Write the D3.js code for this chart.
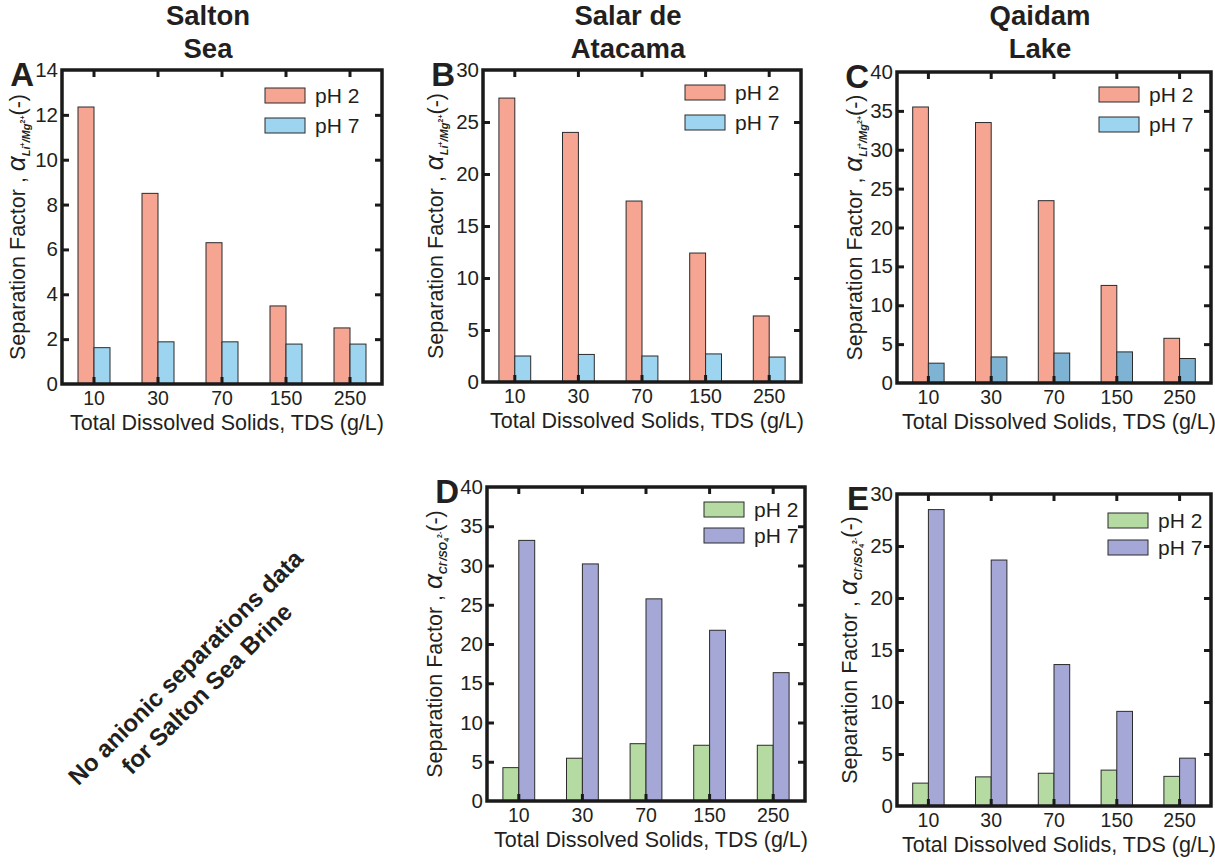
<!DOCTYPE html>
<html>
<head>
<meta charset="utf-8">
<script src="https://cdn.jsdelivr.net/npm/d3@7"></script>
<style>
  html, body { margin: 0; padding: 0; background: #fff; }
  svg { display: block; font-family: "Liberation Sans", Arial, Helvetica, sans-serif; }
</style>
</head>
<body>
<svg id="chart" width="1215" height="865"></svg>
<script>
// ---------- data ----------
const categories = ["10", "30", "70", "150", "250"];
const seriesNames = ["pH 2", "pH 7"];

const saltonPH2 = [12.35, 8.5, 6.3, 3.48, 2.5];
const saltonPH7 = [1.62, 1.88, 1.88, 1.78, 1.78];

const atacamaPH2 = [27.3, 24.0, 17.4, 12.4, 6.35];
const atacamaPH7 = [2.5, 2.65, 2.5, 2.7, 2.4];

const qaidamPH2 = [35.5, 33.5, 23.45, 12.55, 5.75];
const qaidamPH7 = [2.55, 3.35, 3.85, 4.0, 3.15];

const atacamaAnionPH2 = [4.25, 5.45, 7.3, 7.1, 7.1];
const atacamaAnionPH7 = [33.2, 30.2, 25.75, 21.75, 16.35];

const qaidamAnionPH2 = [2.2, 2.8, 3.15, 3.45, 2.85];
const qaidamAnionPH7 = [28.5, 23.65, 13.6, 9.1, 4.6];

const yTicksA = [0, 2, 4, 6, 8, 10, 12, 14];
const yTicks30 = [0, 5, 10, 15, 20, 25, 30];
const yTicks40 = [0, 5, 10, 15, 20, 25, 30, 35, 40];

// ---------- styles ----------
const TXT = "#231f20";
const cSalmon = "#f6a592";
const cBlue = "#9dd5f1";
const cBlueDark = "#7fb3d3";
const cGreen = "#b6dba2";
const cLav = "#a5a8d6";

const panels = [
  { letter: "A", title: ["Salton", "Sea"], x: 62, y: 70, w: 320, h: 314, ymax: 14, ticks: yTicksA,
    data: [saltonPH2, saltonPH7], colors: [cSalmon, cBlue], legendColors: [cSalmon, cBlue],
    ion: "cation", labelOff: 37, legDx: 117, legDy: 18, legGap: 30 },
  { letter: "B", title: ["Salar de", "Atacama"], x: 483, y: 70, w: 318, h: 312, ymax: 30, ticks: yTicks30,
    data: [atacamaPH2, atacamaPH7], colors: [cSalmon, cBlue], legendColors: [cSalmon, cBlue],
    ion: "cation", labelOff: 40, legDx: 116, legDy: 15, legGap: 30 },
  { letter: "C", title: ["Qaidam", "Lake"], x: 897, y: 72, w: 314, h: 311, ymax: 40, ticks: yTicks40,
    data: [qaidamPH2, qaidamPH7], colors: [cSalmon, cBlueDark], legendColors: [cSalmon, cBlue],
    ion: "cation", labelOff: 35, legDx: 112, legDy: 15, legGap: 30 },
  { letter: "D", title: null, x: 487, y: 487, w: 318, h: 314, ymax: 40, ticks: yTicks40,
    data: [atacamaAnionPH2, atacamaAnionPH7], colors: [cGreen, cLav], legendColors: [cGreen, cLav],
    ion: "anion", labelOff: 45, legDx: 101, legDy: 15, legGap: 26 },
  { letter: "E", title: null, x: 897, y: 494, w: 314, h: 312, ymax: 30, ticks: yTicks30,
    data: [qaidamAnionPH2, qaidamAnionPH7], colors: [cGreen, cLav], legendColors: [cGreen, cLav],
    ion: "anion", labelOff: 40, legDx: 103, legDy: 19, legGap: 27 }
];

const svg = d3.select("#chart");

function drawPanel(p) {
  const g = svg.append("g").attr("transform", `translate(${p.x},${p.y})`);
  const x0 = d3.scaleBand().domain(categories).range([0, p.w]).padding(0);
  const x1 = d3.scaleBand().domain(seriesNames)
    .range([x0.bandwidth() * 0.25, x0.bandwidth() * 0.75]).padding(0);
  const y = d3.scaleLinear().domain([0, p.ymax]).range([p.h, 0]);

  // bars
  seriesNames.forEach((s, si) => {
    g.append("g").selectAll("rect")
      .data(p.data[si])
      .join("rect")
      .attr("x", (d, i) => x0(categories[i]) + x1(s))
      .attr("y", d => y(d))
      .attr("width", x1.bandwidth())
      .attr("height", d => y(0) - y(d))
      .attr("fill", p.colors[si])
      .attr("stroke", "#2b2b2b")
      .attr("stroke-width", 1);
  });

  // axes (ticks inward)
  const ax = g.append("g").attr("class", "axes");
  const left = ax.append("g")
    .call(d3.axisLeft(y).tickValues(p.ticks).tickSize(-7).tickPadding(4).tickFormat(d3.format("d")));
  const right = ax.append("g").attr("transform", `translate(${p.w},0)`)
    .call(d3.axisRight(y).tickValues(p.ticks).tickSize(-7).tickFormat(""));
  const bottom = ax.append("g").attr("transform", `translate(0,${p.h})`)
    .call(d3.axisBottom(x0).tickSize(-7).tickPadding(7));
  const top = ax.append("g")
    .call(d3.axisTop(x0).tickSize(-7).tickFormat(""));
  [left, right, bottom, top].forEach(a => {
    a.select(".domain").remove();
    a.selectAll(".tick line").attr("stroke", "#1a1a1a").attr("stroke-width", 3);
    a.selectAll(".tick text").attr("fill", TXT).style("font-family", '"Liberation Sans", Arial, sans-serif');
  });
  left.selectAll(".tick text").attr("font-size", 20.5);
  bottom.selectAll(".tick text").attr("font-size", 19.5).attr("dy", "0.71em");
  left.selectAll(".tick line").filter(d => d === 0 || d === p.ymax).remove();
  right.selectAll(".tick line").filter(d => d === 0 || d === p.ymax).remove();

  // frame
  g.append("rect").attr("x", 0).attr("y", 0).attr("width", p.w).attr("height", p.h)
    .attr("fill", "none").attr("stroke", "#1a1a1a").attr("stroke-width", 3.5);

  // x-axis title
  g.append("text").attr("x", p.w / 2 + 5).attr("y", p.h + 46)
    .attr("text-anchor", "middle").attr("font-size", 21.5).attr("fill", TXT)
    .text("Total Dissolved Solids, TDS (g/L)");

  // y-axis title
  const yl = g.append("text")
    .attr("transform", `translate(${-p.labelOff},${p.h / 2}) rotate(-90)`)
    .attr("text-anchor", "middle").attr("font-size", 21.5).attr("fill", TXT);
  yl.append("tspan").text("Separation Factor , ");
  yl.append("tspan").attr("font-style", "italic").attr("font-size", 26).text("α");
  const sub = 11, sup = 7;
  if (p.ion === "cation") {
    yl.append("tspan").attr("font-size", sub).attr("font-style", "italic").attr("font-weight", "bold").attr("dy", 5).text("Li");
    yl.append("tspan").attr("font-size", sup).attr("font-weight", "bold").attr("dy", -5).text("+");
    yl.append("tspan").attr("font-size", sub).attr("font-style", "italic").attr("font-weight", "bold").attr("dy", 5).text("/Mg");
    yl.append("tspan").attr("font-size", sup).attr("font-weight", "bold").attr("dy", -5).text("2+");
  } else {
    yl.append("tspan").attr("font-size", sub).attr("font-style", "italic").attr("font-weight", "bold").attr("dy", 5).text("Cl");
    yl.append("tspan").attr("font-size", sup).attr("font-weight", "bold").attr("dy", -5).text("-");
    yl.append("tspan").attr("font-size", sub).attr("font-style", "italic").attr("font-weight", "bold").attr("dy", 5).text("/SO");
    yl.append("tspan").attr("font-size", sup).attr("font-weight", "bold").attr("dy", 2).text("4");
    yl.append("tspan").attr("font-size", sup).attr("font-weight", "bold").attr("dy", -7).text("2-");
  }
  yl.append("tspan").attr("dy", 0).attr("font-size", 21.5).text("(-)");

  // legend
  const lg = g.append("g").attr("transform", `translate(${p.w - p.legDx},${p.legDy})`);
  seriesNames.forEach((s, si) => {
    const row = lg.append("g").attr("transform", `translate(0,${si * p.legGap})`);
    row.append("rect").attr("x", 0).attr("y", 0).attr("width", 40).attr("height", 15)
      .attr("fill", p.legendColors[si]).attr("stroke", "#2b2b2b").attr("stroke-width", 1);
    row.append("text").attr("x", 50).attr("y", 7.5).attr("dy", "0.35em")
      .attr("font-size", 21).attr("fill", TXT).text(s);
  });

  // panel letter
  svg.append("text").attr("x", p.x - 28).attr("y", p.y + 16)
    .attr("text-anchor", "end").attr("font-size", 33).attr("font-weight", "bold").attr("fill", TXT)
    .text(p.letter);

  // column title
  if (p.title) {
    const cx = p.x + p.w / 2 - 14;
    p.title.forEach((t, i) => {
      svg.append("text").attr("x", cx).attr("y", 25 + i * 33)
        .attr("text-anchor", "middle").attr("font-size", 27.5).attr("font-weight", "bold")
        .attr("fill", TXT).text(t);
    });
  }
}

panels.forEach(drawPanel);

// note for missing panel
const note = svg.append("g").attr("transform", "translate(197,679) rotate(-45)");
note.append("text").attr("x", 0).attr("y", -8).attr("text-anchor", "middle")
  .attr("font-size", 24).attr("font-weight", "bold").attr("fill", TXT)
  .text("No anionic separations data");
note.append("text").attr("x", 0).attr("y", 22).attr("text-anchor", "middle")
  .attr("font-size", 24).attr("font-weight", "bold").attr("fill", TXT)
  .text("for Salton Sea Brine");
</script>
</body>
</html>
